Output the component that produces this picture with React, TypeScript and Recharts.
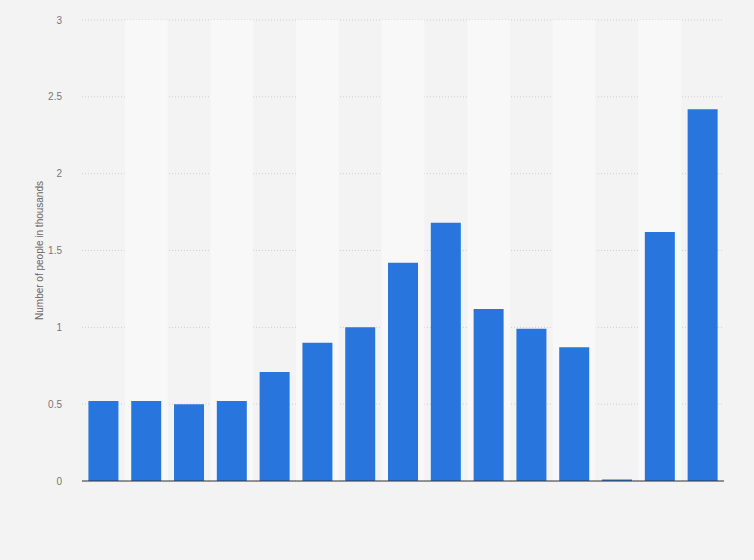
import { BarChart, Bar, XAxis, YAxis, CartesianGrid, ReferenceArea } from 'recharts';

// 15 unlabelled categories
const categories = ['c1', 'c2', 'c3', 'c4', 'c5', 'c6', 'c7', 'c8', 'c9', 'c10', 'c11', 'c12', 'c13', 'c14', 'c15'];
const values = [0.52, 0.52, 0.5, 0.52, 0.71, 0.9, 1.0, 1.42, 1.68, 1.12, 0.99, 0.87, 0.01, 1.62, 2.42];
const yTicks = [0, 0.5, 1, 1.5, 2, 2.5, 3];

const data = categories.map((c, i) => ({ name: c, value: values[i] }));

const FONT = '"Liberation Sans", Arial, sans-serif';

export default function App() {
  return (
    <div style={{ position: 'absolute', left: 0, top: 0, width: 754, height: 560, background: '#f3f3f3' }}>
      <BarChart
        width={754}
        height={560}
        data={data}
        margin={{ top: 20, right: 30, left: 12, bottom: 78 }}
        barCategoryGap="15%"
      >
        {/* bandes alternées */}
        {categories.filter((_, i) => i % 2 === 1).map((c) => (
          <ReferenceArea key={c} x1={c} x2={c} y1={0} y2={3} fill="#f8f8f8" fillOpacity={1} stroke="none" />
        ))}
        <CartesianGrid vertical={false} stroke="#cfcfcf" strokeDasharray="1 2" />
        <XAxis
          dataKey="name"
          tick={false}
          tickLine={false}
          axisLine={{ stroke: '#333', strokeWidth: 1 }}
          height={1}
        />
        <YAxis
          domain={[0, 3]}
          ticks={yTicks}
          width={70}
          axisLine={false}
          tickLine={false}
          tickMargin={14}
          tick={{ fill: '#777', fontSize: 10, fontFamily: FONT }}
          label={{
            value: 'Number of people in thousands',
            angle: -90,
            position: 'insideLeft',
            dx: 22,
            dy: 0,
            style: { fill: '#666', fontSize: 10, fontFamily: FONT, textAnchor: 'middle' }
          }}
        />
        <Bar dataKey="value" fill="#2876dd" isAnimationActive={false} />
      </BarChart>
    </div>
  );
}
